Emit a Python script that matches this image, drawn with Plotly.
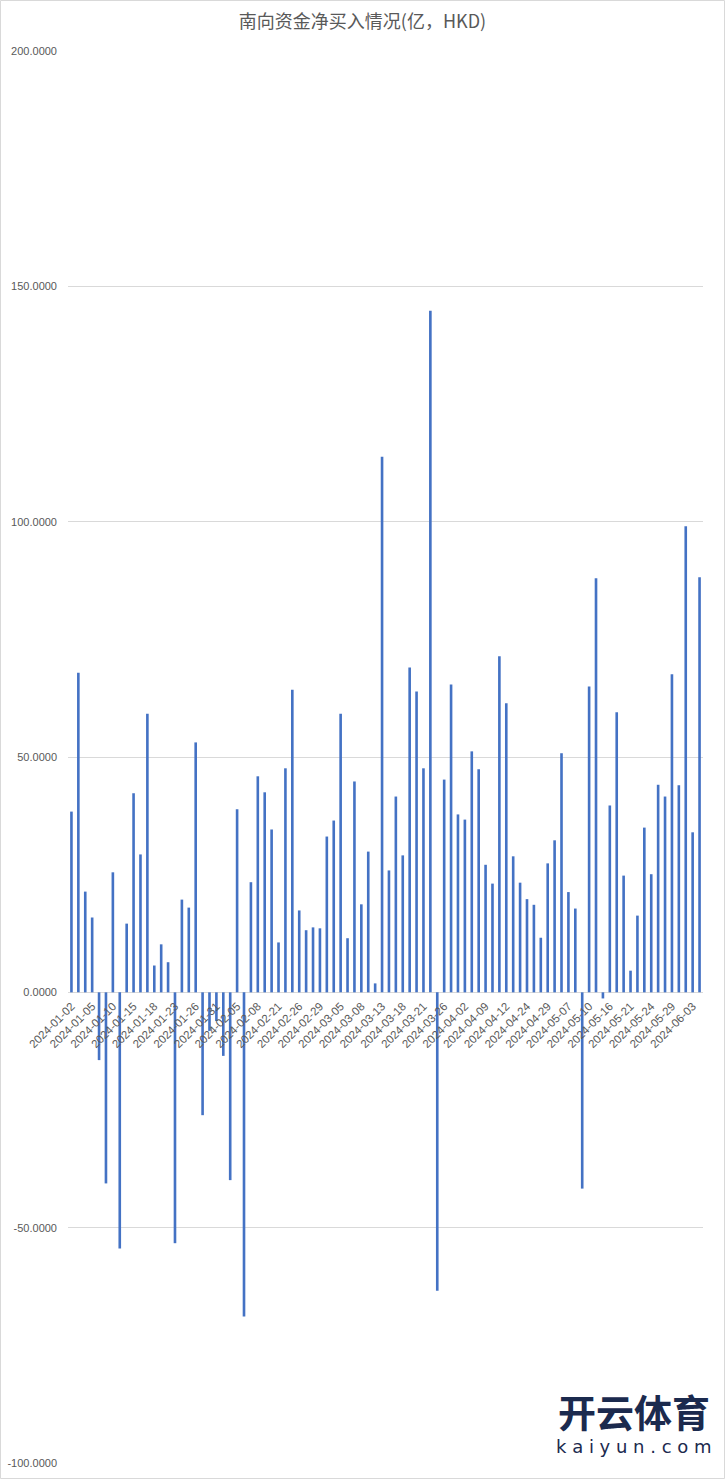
import plotly.graph_objects as go

dates = [
    "2024-01-02", "2024-01-03", "2024-01-04", "2024-01-05", "2024-01-08", "2024-01-09",
    "2024-01-10", "2024-01-11", "2024-01-12", "2024-01-15", "2024-01-16", "2024-01-17",
    "2024-01-18", "2024-01-19", "2024-01-22", "2024-01-23", "2024-01-24", "2024-01-25",
    "2024-01-26", "2024-01-29", "2024-01-30", "2024-01-31", "2024-02-01", "2024-02-02",
    "2024-02-05", "2024-02-06", "2024-02-07", "2024-02-08", "2024-02-19", "2024-02-20",
    "2024-02-21", "2024-02-22", "2024-02-23", "2024-02-26", "2024-02-27", "2024-02-28",
    "2024-02-29", "2024-03-01", "2024-03-04", "2024-03-05", "2024-03-06", "2024-03-07",
    "2024-03-08", "2024-03-11", "2024-03-12", "2024-03-13", "2024-03-14", "2024-03-15",
    "2024-03-18", "2024-03-19", "2024-03-20", "2024-03-21", "2024-03-22", "2024-03-25",
    "2024-03-26", "2024-03-27", "2024-03-28", "2024-04-02", "2024-04-03", "2024-04-08",
    "2024-04-09", "2024-04-10", "2024-04-11", "2024-04-12", "2024-04-22", "2024-04-23",
    "2024-04-24", "2024-04-25", "2024-04-26", "2024-04-29", "2024-04-30", "2024-05-06",
    "2024-05-07", "2024-05-08", "2024-05-09", "2024-05-10", "2024-05-13", "2024-05-14",
    "2024-05-16", "2024-05-17", "2024-05-20", "2024-05-21", "2024-05-22", "2024-05-23",
    "2024-05-24", "2024-05-27", "2024-05-28", "2024-05-29", "2024-05-30", "2024-05-31",
    "2024-06-03", "2024-06-04",
]

net_buy = [
    38.4, 67.9, 21.4, 15.9, -14.4, -40.6, 25.5, -54.4, 14.6, 42.3, 29.3, 59.2,
    5.7, 10.2, 6.4, -53.3, 19.7, 18.0, 53.1, -26.1, -8.2, -6.1, -13.5, -39.9,
    38.9, -68.9, 23.4, 45.9, 42.5, 34.6, 10.6, 47.6, 64.3, 17.4, 13.2, 13.8,
    13.6, 33.1, 36.5, 59.2, 11.5, 44.8, 18.7, 29.9, 1.9, 113.8, 25.9, 41.6,
    29.1, 69.0, 63.9, 47.6, 144.8, -63.4, 45.2, 65.4, 37.8, 36.7, 51.2, 47.4,
    27.1, 23.1, 71.4, 61.4, 28.9, 23.3, 19.8, 18.6, 11.6, 27.4, 32.3, 50.8,
    21.3, 17.8, -41.7, 65.0, 88.0, -1.3, 39.7, 59.5, 24.8, 4.6, 16.3, 35.0,
    25.1, 44.1, 41.6, 67.6, 44.0, 99.0, 34.0, 88.2,
]

tick_labels = dates[::3]

title_text = "南向资金净买入情况(亿，HKD)"
y_ticks = [-100, -50, 0, 50, 100, 150, 200]

W, H = 725, 1479
ML, MR, MT, MB = 68, 22, 51, 16
pw, ph = W - ML - MR, H - MT - MB
zero_frac = (0 - (-100)) / 300.0

fig = go.Figure()
fig.add_trace(go.Bar(
    x=dates, y=net_buy, marker=dict(color="#4472C4", line=dict(width=0)),
))

fig.update_layout(
    width=W, height=H,
    margin=dict(l=ML, r=MR, t=MT, b=MB, autoexpand=False),
    paper_bgcolor="white", plot_bgcolor="white",
    bargap=0.62,
    showlegend=False,
    title=dict(text=title_text, x=0.5, xref="container", xanchor="center",
               y=1 - 22 / H, yref="container", yanchor="middle",
               font=dict(family="Noto Sans CJK SC", size=18, color="#595959")),
    xaxis=dict(
        type="category", categoryorder="array", categoryarray=dates,
        tickmode="array", tickvals=tick_labels, ticktext=tick_labels,
        tickangle=-45, anchor="free", position=zero_frac,
        showgrid=False, showline=False, zeroline=False, ticks="",
        ticklabelstandoff=4, automargin=False,
        tickfont=dict(family="Liberation Sans", size=11.5, color="#595959"),
        range=[-0.5, len(dates) - 0.5],
    ),
    yaxis=dict(
        range=[-100, 200], tickmode="array", tickvals=y_ticks,
        ticktext=[f"{v:.4f}" for v in y_ticks],
        showgrid=True, gridcolor="#d9d9d9", gridwidth=1,
        zeroline=True, zerolinecolor="#d9d9d9", zerolinewidth=1,
        showline=False, ticks="", ticklabelstandoff=10, automargin=False,
        tickfont=dict(family="Liberation Sans", size=11, color="#595959"),
    ),
)

# outer chart border
fig.add_shape(type="rect", xref="paper", yref="paper",
              x0=(0.5 - ML) / pw, x1=(W - 0.5 - ML) / pw,
              y0=(H - MB - (H - 0.5)) / ph, y1=(H - MB - 0.5) / ph,
              line=dict(color="#d9d9d9", width=1), layer="below")

# watermark text
fig.add_annotation(text="<b>开云体育</b>", xref="paper", yref="paper",
                   x=(634 - ML) / pw, y=(H - MB - 1410) / ph, showarrow=False,
                   font=dict(family="Noto Sans CJK SC", size=38, color="#1b2a4e"),
                   xanchor="center", yanchor="middle")
fig.add_annotation(text="k a i y u n . c o m", xref="paper", yref="paper",
                   x=(634 - ML) / pw, y=(H - MB - 1446) / ph, showarrow=False,
                   font=dict(family="DejaVu Sans", size=18, color="#1b2a4e"),
                   xanchor="center", yanchor="middle")

fig.write_html("out.html", config={"displayModeBar": False},
               post_script="document.body.style.margin='0';")
